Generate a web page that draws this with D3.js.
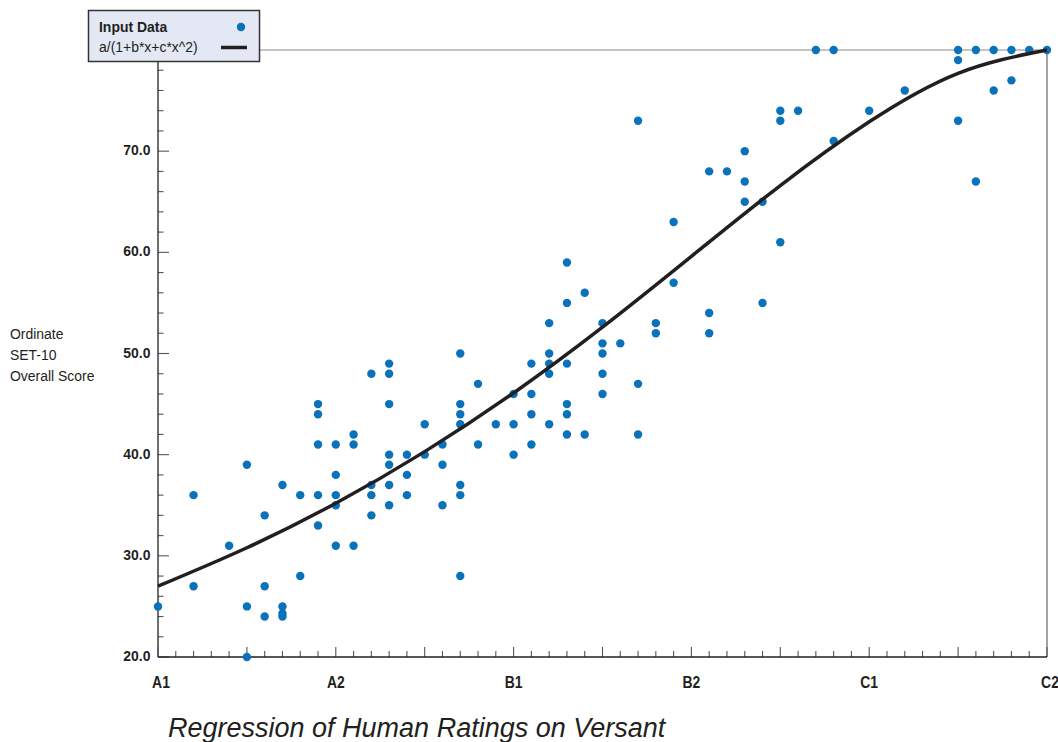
<!DOCTYPE html>
<html>
<head>
<meta charset="utf-8">
<script src="https://cdn.jsdelivr.net/npm/d3@7"></script>
<style>
  html, body { margin: 0; padding: 0; background: #fff; }
  svg { display: block; }
  text { font-family: "Liberation Sans", Arial, Helvetica, sans-serif; fill: #231f20; }
</style>
</head>
<body>
<svg id="chart" width="1058" height="742"></svg>
<script>
// ---- data ----
const categories = ["A1", "A2", "B1", "B2", "C1", "C2"];
// x in category units (A1 = 0 ... C2 = 5), y = SET-10 overall score
const pointsX = [
  0, 0.2, 0.2, 0.4, 0.5, 0.5, 0.5, 0.6, 0.6, 0.6, 0.7, 0.7, 0.7, 0.7,
  0.8, 0.8, 0.9, 0.9, 0.9, 0.9, 0.9, 1.0, 1.0, 1.0, 1.0, 1.0,
  1.1, 1.1, 1.1, 1.2, 1.2, 1.2, 1.2, 1.3, 1.3, 1.3, 1.3, 1.3, 1.3, 1.3,
  1.4, 1.4, 1.4, 1.5, 1.5, 1.6, 1.6, 1.6,
  1.7, 1.7, 1.7, 1.7, 1.7, 1.7, 1.7, 1.8, 1.8, 1.9, 2.0, 2.0, 2.0,
  2.1, 2.1, 2.1, 2.1, 2.2, 2.2, 2.2, 2.2, 2.2,
  2.3, 2.3, 2.3, 2.3, 2.3, 2.3, 2.4, 2.4,
  2.5, 2.5, 2.5, 2.5, 2.5, 2.6, 2.7, 2.7, 2.7, 2.8, 2.8, 2.9, 2.9,
  3.1, 3.1, 3.1, 3.2, 3.3, 3.3, 3.3, 3.4, 3.4, 3.5, 3.5, 3.5, 3.6,
  3.7, 3.8, 3.8, 4.0, 4.2, 4.5, 4.5, 4.5, 4.6, 4.6, 4.7, 4.7, 4.8, 4.8, 4.9, 5.0
];
const pointsY = [
  25, 36, 27, 31, 39, 25, 20, 34, 27, 24, 37, 25, 24, 24.3,
  36, 28, 45, 44, 41, 36, 33, 41, 38, 36, 35, 31,
  42, 41, 31, 48, 37, 36, 34, 49, 48, 45, 40, 39, 37, 35,
  40, 38, 36, 43, 40, 41, 39, 35,
  50, 45, 44, 43, 37, 36, 28, 47, 41, 43, 46, 43, 40,
  49, 46, 44, 41, 53, 50, 49, 48, 43,
  59, 55, 49, 45, 44, 42, 56, 42,
  53, 51, 50, 48, 46, 51, 73, 47, 42, 53, 52, 63, 57,
  68, 54, 52, 68, 70, 67, 65, 65, 55, 74, 73, 61, 74,
  80, 80, 71, 74, 76, 80, 79, 73, 80, 67, 80, 76, 80, 77, 80, 80
];
// fitted curve a/(1+b*x+c*x^2)
const curveX = [0, 0.5, 1, 1.5, 2, 2.5, 3, 3.5, 4, 4.5, 5];
const curveY = [27.0, 30.8, 35.2, 40.3, 46.1, 52.6, 59.6, 66.6, 72.9, 77.7, 80.0];
const yTickLabels = [20, 30, 40, 50, 60, 70];
const yTitleLines = ["Ordinate", "SET-10", "Overall Score"];

// ---- layout ----
const W = 1058, H = 742;
const m = { left: 158, right: 11, top: 50, bottom: 85 };
const svg = d3.select("#chart");
const SX = 0.9; // horizontal condensing to mimic a narrow face

const x = d3.scaleLinear().domain([0, 5]).range([m.left, W - m.right]);
const y = d3.scaleLinear().domain([20, 80]).range([H - m.bottom, m.top]);

const tickColor = "#555";

// frame: top and right gray lines
svg.append("line").attr("x1", x(0)).attr("x2", x(5)).attr("y1", y(80)).attr("y2", y(80))
  .attr("stroke", "#8a8a8a").attr("stroke-width", 1.2);
svg.append("line").attr("x1", x(5)).attr("x2", x(5)).attr("y1", y(80)).attr("y2", y(20))
  .attr("stroke", "#666").attr("stroke-width", 1.2);

// y axis ticks (inward)
const yTicks = d3.range(20, 81, 2);
const yAxisG = svg.append("g").attr("transform", `translate(${m.left},0)`);
yAxisG.selectAll("line.t").data(yTicks).join("line")
  .attr("x1", 0).attr("x2", d => d % 10 === 0 ? 11 : 5.5)
  .attr("y1", d => y(d)).attr("y2", d => y(d))
  .attr("stroke", tickColor).attr("stroke-width", 1.1);
yAxisG.selectAll("text").data(yTickLabels).join("text")
  .attr("transform", d => `translate(-7.5,${y(d)}) scale(${SX},1)`)
  .attr("dy", "0.26em")
  .attr("text-anchor", "end").attr("font-size", 15.5).attr("font-weight", "bold")
  .text(d => d3.format(".1f")(d));
yAxisG.append("line").attr("x1", 0).attr("x2", 0).attr("y1", y(80) - 1).attr("y2", y(20))
  .attr("stroke", "#231f20").attr("stroke-width", 1.3);

// x axis ticks (upward)
const xTicks = d3.range(0, 51).map(i => i / 10);
const xAxisG = svg.append("g").attr("transform", `translate(0,${y(20)})`);
xAxisG.selectAll("line.t").data(xTicks).join("line")
  .attr("x1", d => x(d)).attr("x2", d => x(d))
  .attr("y1", 0).attr("y2", (d, i) => i % 5 === 0 ? -10 : -6)
  .attr("stroke", tickColor).attr("stroke-width", 1.1);
xAxisG.selectAll("text").data(categories).join("text")
  .attr("transform", (d, i) => `translate(${x(i) + (i === 0 ? 3 : i === 5 ? 3 : 0)},30.5) scale(0.82,1)`)
  .attr("text-anchor", "middle").attr("font-size", 17).attr("font-weight", "bold")
  .text(d => d);
xAxisG.append("line").attr("x1", x(0)).attr("x2", x(5)).attr("y1", 0).attr("y2", 0)
  .attr("stroke", "#231f20").attr("stroke-width", 1.3);

// y axis title
svg.append("g").selectAll("text").data(yTitleLines).join("text")
  .attr("transform", (d, i) => `translate(10,${339 + i * 21}) scale(${SX},1)`)
  .attr("font-size", 15.5)
  .text(d => d);

// points
const pts = pointsX.map((v, i) => ({ x: v, y: pointsY[i] }));
svg.append("g").selectAll("circle").data(pts).join("circle")
  .attr("cx", d => x(d.x)).attr("cy", d => y(d.y)).attr("r", 4.2)
  .attr("fill", "#0a72ba");

// curve
const cdata = curveX.map((v, i) => [v, curveY[i]]);
svg.append("path").datum(cdata)
  .attr("fill", "none").attr("stroke", "#231f20").attr("stroke-width", 3.5)
  .attr("d", d3.line().x(d => x(d[0])).y(d => y(d[1])).curve(d3.curveNatural));

// legend
const lg = svg.append("g");
lg.append("rect").attr("x", 88.5).attr("y", 10.5).attr("width", 171).attr("height", 51)
  .attr("fill", "#e3e8f4").attr("stroke", "#333").attr("stroke-width", 1.5);
lg.append("text").attr("transform", `translate(99,32) scale(${SX},1)`)
  .attr("font-size", 15.5).attr("font-weight", "bold").text("Input Data");
lg.append("circle").attr("cx", 241).attr("cy", 27).attr("r", 4.2).attr("fill", "#0a72ba");
lg.append("text").attr("transform", `translate(99,52) scale(${SX},1)`)
  .attr("font-size", 15.5).text("a/(1+b*x+c*x^2)");
lg.append("line").attr("x1", 221).attr("x2", 247).attr("y1", 47.5).attr("y2", 47.5)
  .attr("stroke", "#231f20").attr("stroke-width", 3.5);

// chart title
svg.append("text").attr("x", 168).attr("y", 737)
  .attr("font-size", 27).attr("font-style", "italic")
  .text("Regression of Human Ratings on Versant");
</script>
</body>
</html>
